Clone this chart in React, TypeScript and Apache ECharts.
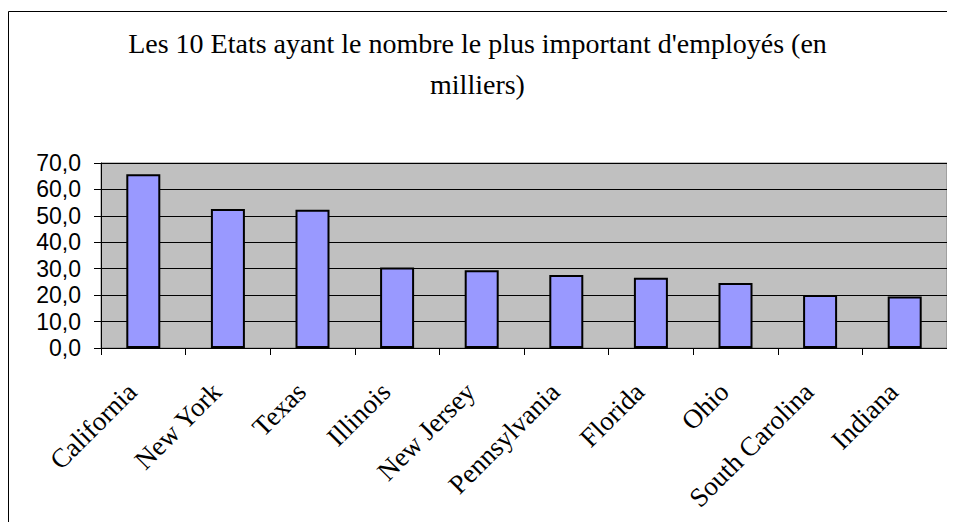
import React, { useEffect, useRef } from "react";
import * as echarts from "echarts";

const categories = [
  "California",
  "New York",
  "Texas",
  "Illinois",
  "New Jersey",
  "Pennsylvania",
  "Florida",
  "Ohio",
  "South Carolina",
  "Indiana",
];
const values = [65.7, 52.6, 52.3, 30.5, 29.4, 27.6, 26.6, 24.6, 20.1, 19.5];
const titleText =
  "Les 10 Etats ayant le nombre le plus important d'employés (en\nmilliers)";

export default function App() {
  const ref = useRef<HTMLDivElement>(null);
  useEffect(() => {
    if (!ref.current) return;
    const chart = echarts.init(ref.current, null, { renderer: "svg" });
    chart.setOption({
      animation: false,
      backgroundColor: "#ffffff",
      graphic: [
        {
          type: "rect",
          shape: { x: 8.5, y: 11.5, width: 943, height: 530 },
          style: { fill: "none", stroke: "#000000", lineWidth: 1 },
          silent: true,
          z: -1,
        },
      ],
      title: {
        text: titleText,
        left: "center",
        top: 18,
        textStyle: {
          fontFamily: "Liberation Serif",
          fontSize: 28,
          fontWeight: "normal",
          color: "#000000",
          lineHeight: 41,
        },
      },
      grid: {
        left: 101,
        right: 8,
        top: 163,
        bottom: 182,
        show: true,
        backgroundColor: "#C0C0C0",
        borderColor: "#808080",
        borderWidth: 1,
      },
      xAxis: {
        type: "category",
        data: categories,
        axisLine: { lineStyle: { color: "#000000", width: 1 } },
        axisTick: {
          show: true,
          length: 7,
          alignWithLabel: false,
          lineStyle: { color: "#000000" },
        },
        axisLabel: {
          interval: 0,
          rotate: 45,
          margin: 28,
          padding: [0, 16, 0, 0],
          fontFamily: "Liberation Serif",
          fontSize: 27,
          color: "#000000",
        },
      },
      yAxis: {
        type: "value",
        min: 0,
        max: 70,
        interval: 10,
        axisLine: { show: true, lineStyle: { color: "#000000", width: 1 } },
        axisTick: {
          show: true,
          length: 7,
          lineStyle: { color: "#000000" },
        },
        splitLine: { show: true, lineStyle: { color: "#000000", width: 1 } },
        axisLabel: {
          margin: 20,
          fontFamily: "Liberation Sans",
          fontSize: 23,
          color: "#000000",
          formatter: (v: number) => v.toFixed(1).replace(".", ","),
        },
      },
      series: [
        {
          type: "bar",
          data: values,
          barWidth: 34,
          itemStyle: {
            color: "#9999FF",
            borderColor: "#000000",
            borderWidth: 2,
          },
        },
      ],
    });
    return () => chart.dispose();
  }, []);
  return <div ref={ref} style={{ width: 955, height: 530, margin: -8 }} />;
}
